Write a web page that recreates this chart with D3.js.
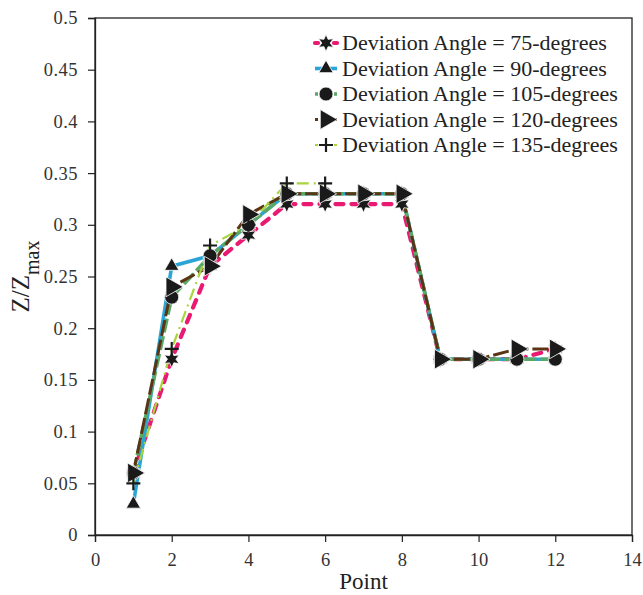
<!DOCTYPE html>
<html>
<head>
<meta charset="utf-8">
<script src="https://cdn.jsdelivr.net/npm/d3@7"></script>
<style>
  body { margin: 0; background: #fff; }
</style>
</head>
<body>
<div id="main"></div>
<script>
var series_names = ['Deviation Angle = 75-degrees', 'Deviation Angle = 90-degrees',
  'Deviation Angle = 105-degrees', 'Deviation Angle = 120-degrees', 'Deviation Angle = 135-degrees']
var points = [1, 2, 3, 4, 5, 6, 7, 8, 9, 10, 11, 12]
var angle_75 = [0.06, 0.17, 0.26, 0.29, 0.32, 0.32, 0.32, 0.32, 0.17, 0.17, 0.17, 0.18]
var angle_90 = [0.03, 0.26, 0.27, 0.30, 0.33, 0.33, 0.33, 0.33, 0.17, 0.17, 0.17, 0.17]
var angle_105 = [0.06, 0.23, 0.27, 0.30, 0.33, 0.33, 0.33, 0.33, 0.17, 0.17, 0.17, 0.17]
var angle_120 = [0.06, 0.24, 0.26, 0.31, 0.33, 0.33, 0.33, 0.33, 0.17, 0.17, 0.18, 0.18]
var angle_135 = [0.05, 0.18, 0.28, 0.30, 0.34, 0.34]
var x_ticks = [0, 2, 4, 6, 8, 10, 12, 14]
var y_ticks = [0, 0.05, 0.1, 0.15, 0.2, 0.25, 0.3, 0.35, 0.4, 0.45, 0.5]

var w = 643
var h = 595
var m_left = 95, m_right = 632, m_top = 18, m_bottom = 535
var serif = "'Liberation Serif'"

var svg = d3.select('div#main').append('svg')
  .attr('width', w)
  .attr('height', h)

var scale_x = d3.scaleLinear().domain([0, 14]).range([m_left, m_right])
var scale_y = d3.scaleLinear().domain([0, 0.5]).range([m_bottom, m_top])

// frame
svg.append('rect')
  .attr('x', m_left).attr('y', m_top)
  .attr('width', m_right - m_left).attr('height', m_bottom - m_top)
  .attr('fill', 'none').attr('stroke', '#222').attr('stroke-width', 1.3)

var ax = svg.append('g').attr('transform', 'translate(0,' + m_bottom + ')')
  .call(d3.axisBottom(scale_x).tickValues(x_ticks).tickSize(7).tickPadding(11).tickFormat(d3.format('d')))
var ay = svg.append('g').attr('transform', 'translate(' + m_left + ',0)')
  .call(d3.axisLeft(scale_y).tickValues(y_ticks).tickSize(7).tickPadding(10).tickFormat(function (d) { return d === 0 ? '0' : String(+d.toFixed(2)) }))
;[ax, ay].forEach(function (a) {
  a.attr('font-size', null).attr('font-family', null)
  a.select('.domain').attr('stroke', '#222').attr('stroke-width', 1.3)
  a.selectAll('.tick line').attr('stroke', '#222').attr('stroke-width', 1.2)
  a.selectAll('.tick text').style('font-family', serif).style('font-size', '18.5px').attr('fill', '#333')
})
ay.selectAll('.tick text').style('letter-spacing', '0.5px')

svg.append('text').text('Point')
  .attr('x', (m_left + m_right) / 2).attr('y', 589)
  .attr('text-anchor', 'middle').style('font-size', '23px').style('font-family', serif).attr('fill', '#222')

var yt = svg.append('text')
  .attr('transform', 'translate(29,' + ((m_top + m_bottom) / 2) + ') rotate(-90)')
  .attr('text-anchor', 'middle').style('font-size', '25px').style('font-family', serif).attr('fill', '#222')
yt.append('tspan').text('Z/Z')
yt.append('tspan').text('max').attr('dy', 10).style('font-size', '20px')

var styles = [
  { color: '#ea1a72', width: 4.2, dash: '8,8', cap: 'round' },
  { color: '#2aa5d6', width: 3.6, dash: null, cap: 'butt' },
  { color: '#5aa865', width: 3.6, dash: '14,4', cap: 'butt' },
  { color: '#5b3413', width: 3, dash: '16,4', cap: 'butt' },
  { color: '#a8d43c', width: 2.2, dash: '12,5,2,5', cap: 'butt' }
]
var shapes = ['star', 'tri', 'circle', 'right', 'plus']
var all_series = [angle_75, angle_90, angle_105, angle_120, angle_135]

function marker (g, shape, cx, cy) {
  if (shape === 'star') {
    var pts = d3.range(12).map(function (i) {
      var r = i % 2 === 0 ? 8.5 : 4.2
      var a = Math.PI / 6 * i
      return [cx + r * Math.sin(a), cy - r * Math.cos(a)]
    })
    g.append('path').attr('d', 'M' + pts.join('L') + 'Z')
      .attr('fill', '#1a1a1a').attr('stroke', '#fff').attr('stroke-width', 0.8)
  } else if (shape === 'tri') {
    g.append('path').attr('d', d3.symbol().type(d3.symbolTriangle).size(90)())
      .attr('transform', 'translate(' + cx + ',' + cy + ')')
      .attr('fill', '#1a1a1a').attr('stroke', '#fff').attr('stroke-width', 0.8)
  } else if (shape === 'circle') {
    g.append('circle').attr('cx', cx).attr('cy', cy).attr('r', 7)
      .attr('fill', '#1a1a1a').attr('stroke', '#fff').attr('stroke-width', 0.8)
  } else if (shape === 'right') {
    g.append('path').attr('d', d3.symbol().type(d3.symbolTriangle).size(170)())
      .attr('transform', 'translate(' + cx + ',' + cy + ') rotate(90)')
      .attr('fill', '#1a1a1a').attr('stroke', '#fff').attr('stroke-width', 0.8)
  } else {
    g.append('path').attr('d', 'M' + (cx - 7) + ',' + cy + 'H' + (cx + 7) + 'M' + cx + ',' + (cy - 7) + 'V' + (cy + 7))
      .attr('stroke', '#1a1a1a').attr('stroke-width', 2.2)
  }
}

var line = d3.line()
  .x(function (d, i) { return scale_x(points[i]) })
  .y(function (d) { return scale_y(d) })

all_series.forEach(function (vals, k) {
  var st = styles[k]
  svg.append('path').datum(vals).attr('d', line)
    .attr('fill', 'none').attr('stroke', st.color).attr('stroke-width', st.width)
    .attr('stroke-dasharray', st.dash).attr('stroke-linecap', st.cap)
})
all_series.forEach(function (vals, k) {
  var g = svg.append('g')
  vals.forEach(function (v, i) {
    marker(g, shapes[k], scale_x(points[i]), scale_y(v))
  })
})

// legend
var lg = svg.append('g')
series_names.forEach(function (name, k) {
  var ly = 43 + k * 25.5
  var st = styles[k]
  lg.append('line').attr('x1', 315).attr('x2', 337).attr('y1', ly).attr('y2', ly)
    .attr('stroke', st.color).attr('stroke-width', st.width)
    .attr('stroke-dasharray', k === 1 ? null : '3,16')
    .attr('stroke-linecap', k === 0 ? 'round' : 'butt')
  marker(lg, shapes[k], 326, ly)
  lg.append('text').text(name).attr('x', 342).attr('y', ly + 7)
    .style('font-size', '22px').style('font-family', serif).attr('fill', '#222')
})
</script>
</body>
</html>
